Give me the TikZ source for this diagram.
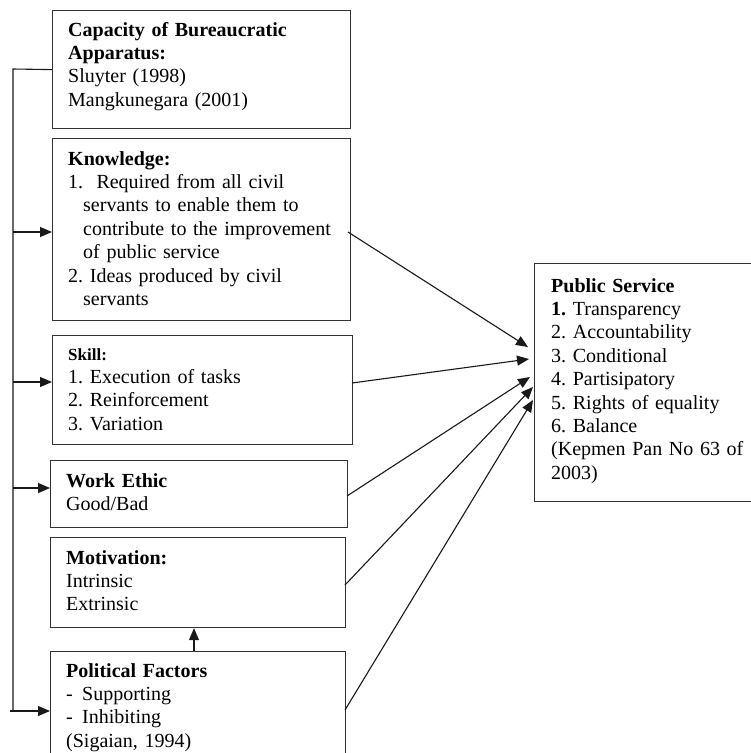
\documentclass[tikz,border=0pt]{standalone}
\usepackage{fontspec}
\setmainfont{Liberation Serif}
\usetikzlibrary{arrows.meta}
\frenchspacing
\begin{document}
\begin{tikzpicture}[x=1pt,y=-1pt,
  box/.style={draw=black!80, line width=1.2pt, anchor=north west, inner sep=0pt},
  txt/.style={anchor=base west, inner sep=0pt, text width=#1, align=left,
              font=\fontsize{20}{23.4}\selectfont},
  conn/.style={draw=black!90, line width=1.1pt, -{Triangle[length=12pt,width=10pt]}},
  plain/.style={draw=black!90, line width=1.1pt}]
\clip (0,0) rectangle (751,753);
\fill[white] (0,0) rectangle (751,753);

% boxes
\node[box, minimum width=298pt, minimum height=118pt] (cap)   at (52,10)  {};
\node[box, minimum width=298pt, minimum height=182pt] (know)  at (52,138) {};
\node[box, minimum width=300pt, minimum height=109pt] (skill) at (52,335) {};
\node[box, minimum width=297pt, minimum height=67pt]  (work)  at (50,460) {};
\node[box, minimum width=295pt, minimum height=90pt]  (motiv) at (50,537) {};
\node[box, minimum width=295pt, minimum height=140pt] (polit) at (50,651) {};
\node[box, minimum width=240pt, minimum height=238pt] (pub)   at (534,263) {};

% texts
\node[txt=280pt] (capT) at (68,36) {\textbf{Capacity of Bureaucratic}\\\textbf{Apparatus:}\\Sluyter (1998)\\Mangkunegara (2001)};
\node[txt=280pt] (knowT) at (68,165) {\textbf{Knowledge:}\\
\makebox[265pt][s]{1.\ \ Required from all civil}\\
\hspace*{15pt}\makebox[250pt][s]{servants to enable them to}\\
\hspace*{15pt}\makebox[250pt][s]{contribute to the improvement}\\
\hspace*{15pt}of public service\\
2. Ideas produced by civil\\
\hspace*{15pt}servants};
\node[txt=280pt] (skillT) at (68,360) {{\fontsize{17}{22}\selectfont\textbf{Skill:}}\\1. Execution of tasks\\2. Reinforcement\\3. Variation};
\node[txt=280pt] (workT) at (66,487) {\textbf{Work Ethic}\\Good/Bad};
\node[txt=280pt] (motivT) at (66,564) {\textbf{Motivation:}\\Intrinsic\\Extrinsic};
\node[txt=280pt] (politT) at (66,677) {\textbf{Political Factors}\\\makebox[16pt][l]{-}Supporting\\\makebox[16pt][l]{-}Inhibiting\\(Sigaian, 1994)};
\node[txt=205pt] (pubT) at (551,292) {\textbf{Public Service}\\\textbf{1.} Transparency\\2. Accountability\\3. Conditional\\4. Partisipatory\\5. Rights of equality\\6. Balance\\(Kepmen Pan No 63 of\\2003)};

% bus on the left
\coordinate (bustop) at (13,69);
\coordinate (busbot) at (13,711);
\coordinate (busK) at (13,232);
\coordinate (busS) at (13,382);
\coordinate (busW) at (13,488);
\coordinate (busP) at (10,711);
\draw[plain] (cap.west) -- (bustop) -- (busbot);
\draw[conn] (busK) -- (know.west |- busK);
\draw[conn] (busS) -- (skill.west |- busS);
\draw[conn] (busW) -- (work.west |- busW);
\draw[conn] (busP) -- (polit.west |- busP);

% political -> motivation
\coordinate (upx) at (194,0);
\draw[conn] (polit.north -| upx) -- (motiv.south -| upx);

% to public service
\coordinate (sK) at (348,232);
\coordinate (sS) at (352,383);
\coordinate (sW) at (347,496);
\coordinate (sM) at (345,585);
\coordinate (sP) at (345,710);
\coordinate (t1) at (528,347);
\coordinate (t2) at (529,359);
\coordinate (t3) at (530,377);
\coordinate (t4) at (533,387);
\coordinate (t5) at (533,400);
\draw[conn] (sK) -- (t1);
\draw[conn] (sS) -- (t2);
\draw[conn] (sW) -- (t3);
\draw[conn] (sM) -- (t4);
\draw[conn] (sP) -- (t5);
\end{tikzpicture}
\end{document}
